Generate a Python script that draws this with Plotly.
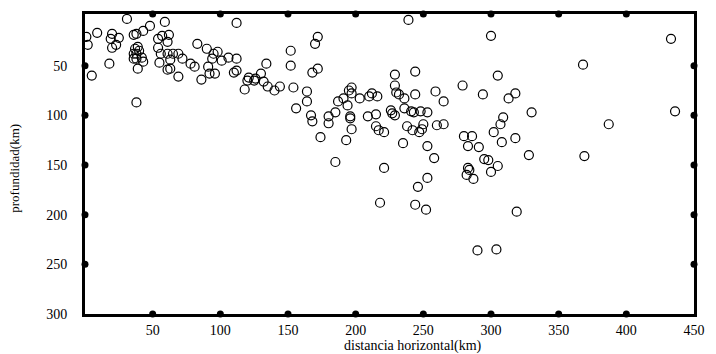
import plotly.graph_objects as go

# horizontal distance (km) and depth (km) of each event
distancia = [31, 59, 48, 43, 36, 38, 9, 1, 20, 19, 25, 2, 23, 20, 54, 57, 62, 61, 54, 83,
             39, 37, 40, 38, 36, 42, 38, 43, 36, 18, 5, 39, 38, 56, 61, 65, 69, 63, 72, 55,
             61, 63, 69, 78, 81, 86, 90, 95, 98, 94, 101, 106, 91, 92, 96, 110, 112, 172, 170, 152,
             134, 152, 168, 172, 112, 112, 130, 121, 120, 125, 126, 132, 135, 140, 144, 118, 154, 164, 164, 156,
             167, 168, 180, 185, 180, 187, 191, 194, 195, 197, 197, 203, 196, 196, 209, 197, 174, 210, 239, 229,
             244, 229, 259, 265, 244, 230, 232, 236, 212, 216, 215, 226, 227, 229, 236, 241, 243, 248, 253, 215,
             217, 221, 238, 242, 247, 250, 249, 260, 265, 193, 235, 253, 258, 185, 221, 305, 279, 294, 313, 318,
             330, 309, 307, 302, 280, 286, 318, 308, 283, 291, 328, 295, 298, 305, 283, 284, 282, 287, 300, 253,
             246, 218, 244, 252, 319, 290, 304, 433, 368, 436, 387, 369, 300]
profundidad = [3, 6, 10, 15, 19, 18, 17, 21, 18, 23, 22, 29, 29, 32, 23, 20, 19, 26, 32, 28,
               31, 33, 35, 38, 38, 42, 43, 46, 43, 48, 60, 53, 87, 38, 38, 38, 38, 44, 43, 47,
               54, 53, 61, 48, 51, 64, 33, 38, 36, 43, 45, 42, 51, 58, 58, 57, 7, 21, 28, 35,
               48, 50, 57, 53, 43, 55, 58, 62, 65, 65, 63, 66, 71, 75, 71, 74, 72, 76, 86, 93,
               100, 106, 101, 97, 108, 86, 83, 90, 75, 72, 78, 83, 101, 103, 101, 114, 122, 81, 4, 59,
               56, 70, 76, 86, 79, 77, 79, 83, 78, 81, 99, 95, 98, 100, 93, 96, 97, 96, 97, 111,
               115, 117, 111, 115, 117, 109, 114, 110, 109, 125, 128, 131, 143, 147, 153, 60, 70, 79, 83, 78,
               97, 102, 109, 117, 121, 121, 123, 127, 131, 132, 140, 144, 145, 151, 153, 155, 160, 164, 157, 163,
               172, 188, 190, 195, 197, 236, 235, 23, 49, 96, 109, 141, 20]

x_ticks = [50, 100, 150, 200, 250, 300, 350, 400, 450]
y_ticks = [50, 100, 150, 200, 250, 300]
x_range = [0, 450]
y_range = [300, -2]

FONT = "Liberation Serif"

fig = go.Figure()

fig.add_trace(go.Scatter(
    x=distancia, y=profundidad, mode="markers",
    marker=dict(symbol="circle-open", size=9, color="black", line=dict(width=1.2, color="black")),
    hoverinfo="skip", showlegend=False))

# filled dots marking the ticks on all four sides of the frame
inner_x = x_ticks[:-1]
inner_y = y_ticks[:-1]
dot_x = inner_x + inner_x + [x_range[0]] * len(inner_y) + [x_range[1]] * len(inner_y)
dot_y = [y_range[0]] * len(inner_x) + [y_range[1]] * len(inner_x) + inner_y + inner_y
fig.add_trace(go.Scatter(
    x=dot_x, y=dot_y, mode="markers", cliponaxis=False,
    marker=dict(symbol="circle", size=7, color="black"),
    hoverinfo="skip", showlegend=False))

fig.update_xaxes(range=x_range, tickvals=x_ticks, ticktext=[str(v) for v in x_ticks],
                 showgrid=False, zeroline=False, showline=True, mirror=True,
                 linewidth=3, linecolor="black", ticks="", ticklabelstandoff=1,
                 tickfont=dict(family=FONT, size=14, color="black"))
fig.update_yaxes(range=y_range, tickvals=y_ticks, ticktext=[str(v) for v in y_ticks],
                 showgrid=False, zeroline=False, showline=True, mirror=True,
                 linewidth=3, linecolor="black", ticks="", ticklabelstandoff=12,
                 tickfont=dict(family=FONT, size=14, color="black"))

fig.update_layout(
    width=716, height=354,
    margin=dict(l=85, r=11, t=11, b=40),
    paper_bgcolor="white", plot_bgcolor="white",
    font=dict(family=FONT, color="black"),
    annotations=[
        dict(text="distancia horizontal(km)", xref="paper", yref="paper",
             x=(419 - 85) / 620, y=-(346 - 314) / 303, xanchor="center", yanchor="middle",
             showarrow=False, font=dict(family=FONT, size=14, color="black")),
        dict(text="profundidad(km)", xref="paper", yref="paper",
             x=-(85 - 13) / 620, y=1 - (167 - 11) / 303, xanchor="center", yanchor="middle",
             textangle=-90, showarrow=False, font=dict(family=FONT, size=13, color="black")),
    ],
)

fig.write_html("out.html")
